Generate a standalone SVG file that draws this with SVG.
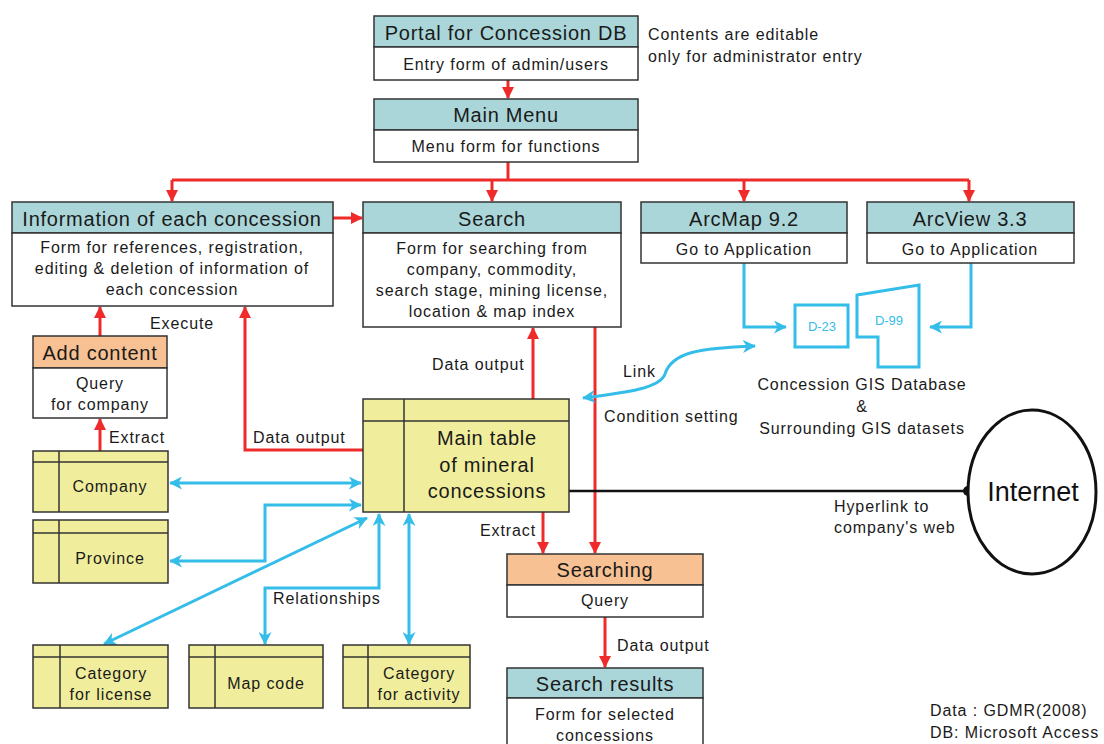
<svg xmlns="http://www.w3.org/2000/svg" width="1104" height="744" viewBox="0 0 1104 744">
  <style>
    text { font-family: "Liberation Sans", Arial, sans-serif; fill: #1a1a1a; }
    .box { stroke: #333; stroke-width: 1.5; }
    .teal { fill: #AAD6D9; }
    .orange { fill: #F8C194; }
    .white { fill: #ffffff; }
    .tbl { fill: #F0EE9C; stroke: #333; stroke-width: 1.5; }
    .tline { stroke: #333; stroke-width: 1.5; fill: none; }
    .hd { font-size: 20px; text-anchor: middle; letter-spacing: 0.75px; }
    .bd { font-size: 16px; text-anchor: middle; letter-spacing: 0.9px; }
    .lbl { font-size: 16px; letter-spacing: 0.9px; }
    .red { stroke: #EE2A2A; stroke-width: 3; fill: none; }
    .blue { stroke: #33BDE8; stroke-width: 3; fill: none; }
    .gis { stroke: #33BDE8; stroke-width: 3; fill: #ffffff; }
  </style>
  <defs>
    <marker id="ra" markerUnits="userSpaceOnUse" markerWidth="12" markerHeight="12" viewBox="0 0 12 12" refX="11" refY="6" orient="auto">
      <path d="M0,0 L12,6 L0,12 z" fill="#EE2A2A"/>
    </marker>
    <marker id="ba" markerUnits="userSpaceOnUse" markerWidth="13" markerHeight="13" viewBox="0 0 14 14" refX="13" refY="7" orient="auto-start-reverse">
      <path d="M0,0 L14,7 L0,14 L4,7 z" fill="#33BDE8"/>
    </marker>
  </defs>

  <rect width="1104" height="744" fill="#ffffff"/>

  <!-- connectors -->
  <g id="connectors">
    <!-- red flow -->
    <line class="red" x1="508" y1="80" x2="508" y2="98" marker-end="url(#ra)"/>
    <polyline class="red" points="508,162 508,180"/>
    <polyline class="red" points="172,180 969,180"/>
    <line class="red" x1="172" y1="180" x2="172" y2="201" marker-end="url(#ra)"/>
    <line class="red" x1="492" y1="180" x2="492" y2="201" marker-end="url(#ra)"/>
    <line class="red" x1="744" y1="180" x2="744" y2="201" marker-end="url(#ra)"/>
    <line class="red" x1="969" y1="180" x2="969" y2="201" marker-end="url(#ra)"/>
    <line class="red" x1="333" y1="218" x2="362" y2="218" marker-end="url(#ra)"/>
    <line class="red" x1="100" y1="336" x2="100" y2="307" marker-end="url(#ra)"/>
    <line class="red" x1="100" y1="451" x2="100" y2="419" marker-end="url(#ra)"/>
    <polyline class="red" points="363,450 245,450 245,307" marker-end="url(#ra)"/>
    <line class="red" x1="533" y1="399" x2="533" y2="328" marker-end="url(#ra)"/>
    <line class="red" x1="595" y1="327" x2="595" y2="553" marker-end="url(#ra)"/>
    <line class="red" x1="543" y1="512" x2="543" y2="553" marker-end="url(#ra)"/>
    <line class="red" x1="605" y1="617" x2="605" y2="667" marker-end="url(#ra)"/>

    <!-- blue relationships -->
    <line class="blue" x1="170" y1="483" x2="361" y2="483" marker-start="url(#ba)" marker-end="url(#ba)"/>
    <polyline class="blue" points="170,561 265,561 265,505 361,505" marker-start="url(#ba)" marker-end="url(#ba)"/>
    <line class="blue" x1="104" y1="644" x2="367" y2="518" marker-start="url(#ba)" marker-end="url(#ba)"/>
    <polyline class="blue" points="265,644 265,588 379,588 379,514" marker-start="url(#ba)" marker-end="url(#ba)"/>
    <line class="blue" x1="409" y1="644" x2="409" y2="514" marker-start="url(#ba)" marker-end="url(#ba)"/>

    <!-- GIS links -->
    <polyline class="blue" points="744,263 744,327 786,327" marker-end="url(#ba)"/>
    <polyline class="blue" points="971,263 971,327 930,327" marker-end="url(#ba)"/>
    <path class="blue" d="M583,398 C630,392 660,388 665,374 C672,352 700,348 755,346" marker-start="url(#ba)" marker-end="url(#ba)"/>

    <!-- hyperlink -->
    <line x1="569" y1="491" x2="968" y2="491" stroke="#111" stroke-width="2.5"/>
    <circle cx="968" cy="491" r="5" fill="#111"/>

    <!-- connector labels -->
    <text class="lbl" x="150" y="329">Execute</text>
    <text class="lbl" x="109" y="443">Extract</text>
    <text class="lbl" x="253" y="443">Data output</text>
    <text class="lbl" x="432" y="370">Data output</text>
    <text class="lbl" x="623" y="377">Link</text>
    <text class="lbl" x="604" y="422">Condition setting</text>
    <text class="lbl" x="480" y="536">Extract</text>
    <text class="lbl" x="273" y="604">Relationships</text>
    <text class="lbl" x="617" y="651">Data output</text>
    <text class="lbl" x="834" y="512">Hyperlink to</text>
    <text class="lbl" x="834" y="533">company's web</text>
  </g>

  <!-- portal -->
  <g id="portal">
    <rect class="box teal" x="374" y="16" width="264" height="31"/>
    <rect class="box white" x="374" y="47" width="264" height="33"/>
    <text class="hd" x="506" y="40">Portal for Concession DB</text>
    <text class="bd" x="506" y="70">Entry form of admin/users</text>
  </g>
  <g id="portal-note">
    <text class="lbl" x="648" y="40">Contents are editable</text>
    <text class="lbl" x="648" y="62">only for administrator entry</text>
  </g>

  <!-- main menu -->
  <g id="main-menu">
    <rect class="box teal" x="374" y="99" width="264" height="31"/>
    <rect class="box white" x="374" y="130" width="264" height="32"/>
    <text class="hd" x="506" y="122">Main Menu</text>
    <text class="bd" x="506" y="152">Menu form for functions</text>
  </g>

  <!-- information of each concession -->
  <g id="info">
    <rect class="box teal" x="12" y="202" width="321" height="31"/>
    <rect class="box white" x="12" y="233" width="321" height="73"/>
    <text class="hd" x="172" y="226">Information of each concession</text>
    <text class="bd" x="172" y="253">Form for references, registration,</text>
    <text class="bd" x="172" y="274">editing &amp; deletion of information of</text>
    <text class="bd" x="172" y="295">each concession</text>
  </g>

  <!-- search -->
  <g id="search">
    <rect class="box teal" x="363" y="202" width="258" height="31"/>
    <rect class="box white" x="363" y="233" width="258" height="94"/>
    <text class="hd" x="492" y="226">Search</text>
    <text class="bd" x="492" y="254">Form for searching from</text>
    <text class="bd" x="492" y="275">company, commodity,</text>
    <text class="bd" x="492" y="296">search stage, mining license,</text>
    <text class="bd" x="492" y="317">location &amp; map index</text>
  </g>

  <!-- ArcMap -->
  <g id="arcmap">
    <rect class="box teal" x="641" y="202" width="206" height="31"/>
    <rect class="box white" x="641" y="233" width="206" height="30"/>
    <text class="hd" x="744" y="226">ArcMap 9.2</text>
    <text class="bd" x="744" y="255">Go to Application</text>
  </g>

  <!-- ArcView -->
  <g id="arcview">
    <rect class="box teal" x="867" y="202" width="207" height="31"/>
    <rect class="box white" x="867" y="233" width="207" height="30"/>
    <text class="hd" x="970" y="226">ArcView 3.3</text>
    <text class="bd" x="970" y="255">Go to Application</text>
  </g>

  <!-- GIS database -->
  <g id="gis-db">
    <rect class="gis" x="795" y="305" width="53" height="42"/>
    <polygon class="gis" points="857,295 919,285 919,367 878,367 878,337 857,337"/>
    <text x="822" y="331" font-size="13" text-anchor="middle" style="fill:#33BDE8">D-23</text>
    <text x="889" y="325" font-size="13" text-anchor="middle" style="fill:#33BDE8">D-99</text>
    <text class="bd" x="862" y="390">Concession GIS Database</text>
    <text class="bd" x="862" y="412">&amp;</text>
    <text class="bd" x="862" y="434">Surrounding GIS datasets</text>
  </g>

  <!-- add content -->
  <g id="add-content">
    <rect class="box orange" x="33" y="336" width="134" height="32"/>
    <rect class="box white" x="33" y="368" width="134" height="50"/>
    <text class="hd" x="100" y="360">Add content</text>
    <text class="bd" x="100" y="389">Query</text>
    <text class="bd" x="100" y="410">for company</text>
  </g>

  <!-- main table -->
  <g id="main-table">
    <rect class="tbl" x="363" y="399" width="206" height="113"/>
    <line class="tline" x1="363" y1="421" x2="569" y2="421"/>
    <line class="tline" x1="404" y1="399" x2="404" y2="512"/>
    <text class="hd" x="487" y="445">Main table</text>
    <text class="hd" x="487" y="472">of mineral</text>
    <text class="hd" x="487" y="498">concessions</text>
  </g>

  <!-- company -->
  <g id="company">
    <rect class="tbl" x="33" y="451" width="135" height="61"/>
    <line class="tline" x1="33" y1="462" x2="168" y2="462"/>
    <line class="tline" x1="59" y1="451" x2="59" y2="512"/>
    <text class="bd" x="110" y="492">Company</text>
  </g>

  <!-- province -->
  <g id="province">
    <rect class="tbl" x="33" y="520" width="135" height="63"/>
    <line class="tline" x1="33" y1="533" x2="168" y2="533"/>
    <line class="tline" x1="59" y1="520" x2="59" y2="583"/>
    <text class="bd" x="110" y="564">Province</text>
  </g>

  <!-- category for license -->
  <g id="cat-license">
    <rect class="tbl" x="33" y="645" width="135" height="63"/>
    <line class="tline" x1="33" y1="657" x2="168" y2="657"/>
    <line class="tline" x1="60" y1="645" x2="60" y2="708"/>
    <text class="bd" x="111" y="679">Category</text>
    <text class="bd" x="111" y="700">for license</text>
  </g>

  <!-- map code -->
  <g id="map-code">
    <rect class="tbl" x="189" y="645" width="134" height="63"/>
    <line class="tline" x1="189" y1="657" x2="323" y2="657"/>
    <line class="tline" x1="215" y1="645" x2="215" y2="708"/>
    <text class="bd" x="266" y="689">Map code</text>
  </g>

  <!-- category for activity -->
  <g id="cat-activity">
    <rect class="tbl" x="343" y="645" width="127" height="63"/>
    <line class="tline" x1="343" y1="657" x2="470" y2="657"/>
    <line class="tline" x1="368" y1="645" x2="368" y2="708"/>
    <text class="bd" x="419" y="679">Category</text>
    <text class="bd" x="419" y="700">for activity</text>
  </g>

  <!-- searching -->
  <g id="searching">
    <rect class="box orange" x="507" y="554" width="196" height="31"/>
    <rect class="box white" x="507" y="585" width="196" height="32"/>
    <text class="hd" x="605" y="577">Searching</text>
    <text class="bd" x="605" y="606">Query</text>
  </g>

  <!-- search results -->
  <g id="search-results">
    <rect class="box teal" x="507" y="668" width="196" height="30"/>
    <rect class="box white" x="507" y="698" width="196" height="50"/>
    <text class="hd" x="605" y="691">Search results</text>
    <text class="bd" x="605" y="720">Form for selected</text>
    <text class="bd" x="605" y="741">concessions</text>
  </g>

  <!-- internet -->
  <g id="internet">
    <ellipse cx="1032" cy="492" rx="64" ry="82" fill="#ffffff" stroke="#111" stroke-width="3"/>
    <text x="1033" y="501" font-size="27" text-anchor="middle" style="fill:#111">Internet</text>
  </g>

  <!-- source note -->
  <g id="source-note">
    <text class="lbl" x="930" y="716">Data : GDMR(2008)</text>
    <text class="lbl" x="930" y="738">DB: Microsoft Access</text>
  </g>
</svg>
